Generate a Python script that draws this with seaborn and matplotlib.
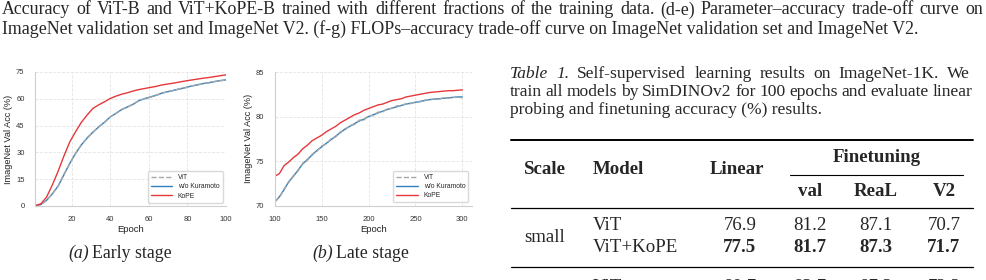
import numpy as np
import pandas as pd
import seaborn as sns
import matplotlib.pyplot as plt

# ---- data ----
early_epoch = [1, 4, 7, 10, 13, 16, 19, 22, 25, 28, 31, 34, 37, 40, 43, 46, 49, 52, 55, 58,
               61, 64, 67, 70, 73, 76, 79, 82, 85, 88, 91, 94, 97, 100]
early_kope = [0.2, 1.2, 5.0, 11.8, 19.5, 28.0, 35.8, 41.5, 46.8, 50.9, 54.6, 56.6, 58.3, 60.2,
              61.5, 62.6, 63.4, 64.4, 65.2, 65.8, 66.4, 67.0, 67.8, 68.3, 68.8, 69.4, 70.0,
              70.5, 71.0, 71.5, 71.9, 72.4, 72.9, 73.4]
early_wo = [0.1, 0.8, 3.2, 6.8, 11.2, 17.5, 23.8, 29.4, 34.2, 38.0, 41.3, 44.2, 46.9, 49.8,
            51.9, 54.0, 55.5, 57.0, 59.1, 60.1, 61.1, 62.0, 63.3, 64.0, 64.8, 65.5, 66.3,
            67.1, 67.8, 68.5, 69.0, 69.6, 70.2, 70.6]
early_vit = [0.1, 0.9, 3.0, 7.0, 11.0, 17.8, 23.5, 29.6, 34.0, 38.3, 41.1, 44.5, 46.7, 49.9,
             51.7, 54.2, 55.3, 57.2, 58.9, 60.3, 60.9, 62.2, 63.1, 64.2, 64.6, 65.7, 66.1,
             67.3, 67.6, 68.6, 68.9, 69.7, 70.1, 70.5]

late_epoch = [100, 105, 110, 115, 120, 125, 130, 135, 140, 145, 150, 155, 160, 165, 170, 175,
              180, 185, 190, 195, 200, 205, 210, 215, 220, 225, 230, 235, 240, 245, 250, 255,
              260, 265, 270, 275, 280, 285, 290, 295, 300]
late_kope = [73.3, 73.6, 74.5, 74.9, 75.4, 75.8, 76.4, 76.8, 77.3, 77.6, 77.9, 78.3, 78.6,
             78.9, 79.3, 79.6, 79.9, 80.2, 80.4, 80.7, 80.9, 81.1, 81.3, 81.4, 81.6, 81.8,
             81.9, 82.0, 82.2, 82.3, 82.4, 82.5, 82.6, 82.7, 82.75, 82.8, 82.85, 82.9, 82.9,
             82.95, 83.0]
late_wo = [70.4, 71.0, 71.8, 72.7, 73.3, 74.0, 74.7, 75.2, 75.7, 76.2, 76.6, 77.0, 77.4,
           77.8, 78.2, 78.6, 78.9, 79.2, 79.5, 79.7, 80.0, 80.2, 80.4, 80.6, 80.8, 80.95,
           81.1, 81.25, 81.4, 81.5, 81.6, 81.7, 81.8, 81.9, 81.95, 82.0, 82.05, 82.1, 82.15,
           82.2, 82.2]
late_vit = [70.5, 70.9, 71.9, 72.6, 73.4, 73.9, 74.8, 75.1, 75.8, 76.1, 76.7, 76.9, 77.5,
            77.7, 78.3, 78.5, 79.0, 79.1, 79.6, 79.6, 80.1, 80.1, 80.5, 80.5, 80.9, 80.9,
            81.2, 81.2, 81.45, 81.45, 81.65, 81.65, 81.85, 81.85, 82.0, 81.95, 82.1, 82.05,
            82.15, 82.15, 82.1]

series_names = ['ViT', 'w/o Kuramoto', 'KoPE']
table_cols = ['Scale', 'Model', 'Linear', 'val', 'ReaL', 'V2']
table_models = ['ViT', 'ViT+KoPE']
table_small = [['76.9', '81.2', '87.1', '70.7'],
               ['77.5', '81.7', '87.3', '71.7']]
table_next = ['80.7', '82.7', '87.2', '72.2']

caption_top = [
    'Accuracy of ViT-B and ViT+KoPE-B trained with different fractions of the training data. (d-e) Parameter\u2013accuracy trade-off curve on',
    'ImageNet validation set and ImageNet V2. (f-g) FLOPs\u2013accuracy trade-off curve on ImageNet validation set and ImageNet V2.',
]
table_caption = [
    'Table 1. Self-supervised learning results on ImageNet-1K. We',
    'train all models by SimDINOv2 for 100 epochs and evaluate linear',
    'probing and finetuning accuracy (%) results.',
]

# ---- style ----
sns.set_theme(style='whitegrid')
plt.rcParams['font.family'] = ['Liberation Sans', 'DejaVu Sans']
plt.rcParams['grid.linestyle'] = '--'
plt.rcParams['grid.color'] = '#e4e4e4'
plt.rcParams['grid.linewidth'] = 0.6

colors = {'ViT': '#a8a8a8', 'w/o Kuramoto': '#2f80c0', 'KoPE': '#e5383b'}

W, H = 986, 280
fig = plt.figure(figsize=(W / 100, H / 100), dpi=100)
renderer = fig.canvas.get_renderer()

# page layer in pixel coordinates for the text around the plots
page = fig.add_axes([0, 0, 1, 1])
page.set_xlim(0, W)
page.set_ylim(H, 0)
page.axis('off')
serif = 'Liberation Serif'


def text_w(s, size, style='normal'):
    t = page.text(0, 0, s, fontsize=size, family=serif, style=style)
    w = t.get_window_extent(renderer=renderer).width
    t.remove()
    return w


def fit_size(s, width, base=10):
    return base * width / text_w(s, base)


def justify(line, x0, x1, y, size, italic_words=0):
    words = line.split(' ')
    styles = ['italic' if i < italic_words else 'normal' for i in range(len(words))]
    ws = [text_w(w, size, st) for w, st in zip(words, styles)]
    gap = (x1 - x0 - sum(ws)) / (len(words) - 1)
    x = x0
    for w, st, wd in zip(words, styles, ws):
        page.text(x, y, w, fontsize=size, family=serif, style=st, va='center', ha='left')
        x += wd + gap


def make_df(epochs, vit, wo, kope):
    return pd.DataFrame({
        'Epoch': epochs * 3,
        'Acc': vit + wo + kope,
        'Model': ['ViT'] * len(epochs) + ['w/o Kuramoto'] * len(epochs) + ['KoPE'] * len(epochs),
    })


def draw(ax, df, xlim, ylim, xticks, yticks):
    # blue first, then ViT dashes on top, then KoPE
    for name in ['w/o Kuramoto', 'ViT', 'KoPE']:
        sub = df[df['Model'] == name]
        ls = '--' if name == 'ViT' else '-'
        sns.lineplot(data=sub, x='Epoch', y='Acc', ax=ax, color=colors[name],
                     linestyle=ls, linewidth=1.0, label=name)
    ax.set_xlim(*xlim)
    ax.set_ylim(*ylim)
    ax.set_xticks(xticks)
    ax.set_yticks(yticks)
    ax.tick_params(labelsize=5.5, colors='#333333', pad=1.5)
    ax.set_xlabel('Epoch', fontsize=6.8, labelpad=1, color='#222222')
    ax.set_ylabel('ImageNet Val Acc (%)', fontsize=6.6, labelpad=2, color='#222222')
    for s in ['top', 'right']:
        ax.spines[s].set_visible(False)
    for s in ['left', 'bottom']:
        ax.spines[s].set_color('#cfcfcf')
        ax.spines[s].set_linewidth(0.8)
    handles, labels = ax.get_legend_handles_labels()
    order = [labels.index(n) for n in series_names]
    ax.legend([handles[i] for i in order], [labels[i] for i in order],
              loc='lower right', fontsize=4.9, frameon=True, edgecolor='#d0d0d0',
              handlelength=3.2, borderpad=0.45, labelspacing=0.3, borderaxespad=0.5)


ax_a = fig.add_axes([35 / W, 1 - 206 / H, 191 / W, 134 / H])
draw(ax_a, make_df(early_epoch, early_vit, early_wo, early_kope),
     (1, 100), (0, 75), [20, 40, 60, 80, 100], [0, 15, 30, 45, 60, 75])

ax_b = fig.add_axes([274.7 / W, 1 - 205.7 / H, 197 / W, 133.7 / H])
draw(ax_b, make_df(late_epoch, late_vit, late_wo, late_kope),
     (100, 310), (70, 85), [100, 150, 200, 250, 300], [70, 75, 80, 85])

# top caption: last line at natural width, first line justified
cap_size = fit_size(caption_top[1], 920)
justify(caption_top[0], 2, 983, 10, cap_size)
page.text(2, 29, caption_top[1], fontsize=cap_size, family=serif, va='center', ha='left')

# subcaptions
page.text(68, 253, '(a)', fontsize=12.8, family=serif, style='italic', va='center')
page.text(92, 253, 'Early stage', fontsize=12.8, family=serif, va='center')
page.text(312, 253, '(b)', fontsize=12.8, family=serif, style='italic', va='center')
page.text(336, 253, 'Late stage', fontsize=12.8, family=serif, va='center')

# table caption
tcap_size = fit_size(table_caption[2], 312)
justify(table_caption[0], 510, 970, 74, tcap_size, italic_words=2)
justify(table_caption[1], 510, 972, 92, tcap_size)
page.text(510, 110, table_caption[2], fontsize=tcap_size, family=serif, va='center')

# table rules
page.plot([511, 973], [140, 140], color='black', lw=1.4)
page.plot([790, 963], [175, 175], color='black', lw=0.8)
page.plot([511, 973], [208, 208], color='black', lw=0.9)
page.plot([511, 973], [267, 267], color='black', lw=0.9)

tfs = 13.6
page.text(524, 169, table_cols[0], fontsize=tfs, family=serif, weight='bold', va='center')
page.text(593, 169, table_cols[1], fontsize=tfs, family=serif, weight='bold', va='center')
page.text(737, 169, table_cols[2], fontsize=tfs, family=serif, weight='bold', va='center', ha='center')
page.text(877, 157, 'Finetuning', fontsize=tfs, family=serif, weight='bold', va='center', ha='center')
col_x = [740, 810, 876, 944]
for x, name in zip(col_x[1:], table_cols[3:]):
    page.text(x, 192, name, fontsize=tfs, family=serif, weight='bold', va='center', ha='center')

page.text(524, 238, 'small', fontsize=tfs, family=serif, va='center')
for r, (model, vals) in enumerate(zip(table_models, table_small)):
    y = 226 + r * 22
    page.text(593, y, model, fontsize=tfs, family=serif, va='center')
    for x, v in zip(col_x, vals):
        page.text(x, y, v, fontsize=tfs, family=serif, va='center', ha='center',
                  weight='bold' if r == 1 else 'normal')

# next row, cut off by the page edge as in the reference
page.text(593, 287, 'ViT', fontsize=tfs, family=serif, va='center')
for x, v in zip(col_x, table_next):
    page.text(x, 287, v, fontsize=tfs, family=serif, va='center', ha='center')

fig.savefig('out.png', dpi=100)
